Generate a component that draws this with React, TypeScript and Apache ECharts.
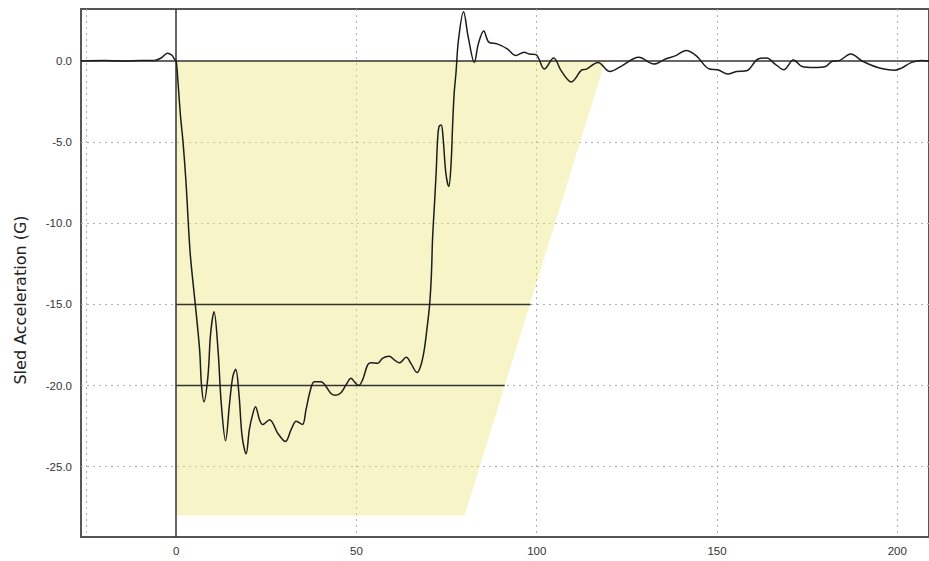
import React, { useEffect, useRef } from "react";
import * as echarts from "echarts";

// Sled acceleration trace (time, G)
const sledPulse: [number, number][] = [
  [-26.4, 0.0], [-20, 0.02], [-15, 0.0], [-10, 0.02], [-6, 0.03], [-4.2, 0.18], [-2.4, 0.47],
  [-1.2, 0.35], [-0.4, 0.08], [0, 0.0], [0.5, -1.3], [1.2, -3.4], [1.9, -5.0], [2.7, -7.4],
  [3.8, -11.6], [4.5, -13.3], [5.3, -15.0], [6.5, -17.8], [7.0, -19.9], [7.7, -21.0],
  [8.8, -19.45], [9.55, -16.8], [10.5, -15.45], [11.6, -17.8], [12.5, -21.1], [13.7, -23.4],
  [14.8, -21.1], [15.7, -19.45], [16.5, -19.0], [17.4, -20.5], [18.3, -23.15], [19.4, -24.2],
  [20.3, -22.7], [21.3, -21.7], [22.0, -21.3], [23.1, -22.1], [24.0, -22.4], [25.9, -22.1],
  [28.2, -22.95], [30.3, -23.45], [31.9, -22.7], [33.3, -22.2], [35.0, -22.4], [36.0, -21.5],
  [37.2, -20.3], [38.3, -19.76], [40.2, -19.76], [41.6, -20.07], [43.0, -20.5], [44.2, -20.6],
  [45.7, -20.44], [47.1, -19.96], [48.5, -19.55], [49.4, -19.76], [50.6, -20.0], [51.7, -19.65],
  [53.1, -18.73], [54.0, -18.6], [55.9, -18.63], [57.2, -18.32], [59.1, -18.2], [60.5, -18.42],
  [61.9, -18.6], [63.8, -18.26], [65.1, -18.63], [66.8, -19.2], [67.9, -18.73], [68.8, -17.8],
  [69.5, -16.6], [70.3, -15.0], [70.8, -13.1], [71.1, -11.0], [71.6, -8.98], [72.1, -6.9],
  [72.5, -4.87], [72.9, -4.05], [73.5, -3.94], [74.0, -4.66], [74.8, -6.92], [75.6, -7.74],
  [76.2, -6.5], [76.7, -3.8], [77.1, -2.0], [77.6, -0.74], [78.3, 1.3], [79.7, 3.03],
  [81.0, 1.47], [82.7, -0.09], [83.8, 1.05], [85.3, 1.85], [86.7, 1.16], [89.0, 1.05],
  [91.8, 0.75], [94.2, 0.33], [96.5, 0.54], [97.9, 0.43], [99.8, 0.39], [102.1, -0.5],
  [104.7, 0.18], [106.8, -0.61], [109.6, -1.29], [112.4, -0.57], [113.8, -0.5], [117.0, -0.09],
  [120.3, -0.65], [123.6, -0.3], [128.3, 0.22], [132.5, -0.19], [135.7, 0.12], [138.6, 0.33],
  [141.4, 0.64], [144.2, 0.33], [147.9, -0.5], [150.2, -0.54], [153.0, -0.81], [155.4, -0.65],
  [158.2, -0.61], [161.4, 0.12], [163.8, 0.18], [166.1, -0.19], [168.5, -0.54], [171.2, 0.06],
  [173.6, -0.34], [176.9, -0.4], [180.1, -0.34], [182.0, -0.02], [183.9, 0.02], [187.1, 0.43],
  [190.4, -0.02], [194.6, -0.4], [199.3, -0.57], [201.2, -0.44], [204.0, -0.09], [206.8, 0.02],
  [208.8, 0.0],
];

// Corridor (yellow) polygon vertices
const corridor: [number, number][] = [[0, 0], [119, 0], [80, -28], [0, -28]];

// Horizontal limit lines inside the corridor
const limitLevels = [-15, -20];
const limitEnds = [98.3, 91.1];

// Axis ticks
const xLabelValues = [0, 50, 100, 150, 200];
const xGridValues = [-25, 50, 100, 150, 200];
const yLabelValues = [-25, -20, -15, -10, -5, 0];
const yGridValues = [-25, -20, -15, -10, -5];

export default function App() {
  const ref = useRef<HTMLDivElement>(null);
  useEffect(() => {
    if (!ref.current) return;
    const chart = echarts.init(ref.current, null, { renderer: "svg" });
    const labelStyle = { color: "#333", fontSize: 11.5, fontFamily: "Liberation Sans, Arial, sans-serif" };
    const gridLine = { show: true, lineStyle: { color: "#b0b0b0", type: [2, 4] as any, width: 1 } };
    const option: any = {
      animation: false,
      backgroundColor: "#ffffff",
      grid: { left: 81, top: 9, right: -3, bottom: 24, show: true, borderColor: "#555", borderWidth: 2, backgroundColor: "#ffffff" },
      xAxis: {
        type: "value", min: -26.4, max: 208.8,
        axisLine: { show: false, onZero: false },
        axisTick: { show: false, customValues: xGridValues },
        axisLabel: { ...labelStyle, margin: 8, customValues: xLabelValues, formatter: (v: number) => String(v) },
        splitLine: gridLine,
      },
      yAxis: {
        type: "value", min: -29.33, max: 3.2,
        axisLine: { show: false, onZero: false },
        axisTick: { show: false, customValues: yGridValues },
        axisLabel: { ...labelStyle, margin: 9, customValues: yLabelValues, formatter: (v: number) => v.toFixed(1) },
        splitLine: gridLine,
      },
      graphic: [
        {
          type: "text", x: 20, y: 300, rotation: Math.PI / 2,
          style: { text: "Sled Acceleration (G)", fill: "#222", font: "16px 'DejaVu Sans', sans-serif", align: "center", verticalAlign: "middle" },
        },
      ],
      series: [
        {
          type: "custom",
          silent: true,
          z: 1,
          data: corridor,
          clip: true,
          renderItem: (params: any, api: any) => {
            if (params.dataIndex !== 0) return null;
            const pts = corridor.map((p) => api.coord(p));
            return { type: "polygon", shape: { points: pts }, style: { fill: "rgba(234,229,110,0.38)" } };
          },
        },
        ...limitLevels.map((lv, i) => ({
          type: "line",
          silent: true,
          z: 3,
          symbol: "none",
          data: [[0, lv], [limitEnds[i], lv]],
          lineStyle: { color: "#333", width: 1.5 },
        })),
        {
          type: "line",
          z: 5,
          smooth: 0.35,
          symbol: "none",
          data: sledPulse,
          lineStyle: { color: "#1c1c1c", width: 1.5 },
          markLine: {
            silent: true, symbol: "none", label: { show: false },
            lineStyle: { color: "#333", width: 1.5, type: "solid" },
            data: [{ yAxis: 0 }, { xAxis: 0 }],
          },
        },
      ],
    };
    chart.setOption(option);
    return () => chart.dispose();
  }, []);
  return <div ref={ref} style={{ position: "absolute", left: 0, top: 0, width: 929, height: 561 }} />;
}
